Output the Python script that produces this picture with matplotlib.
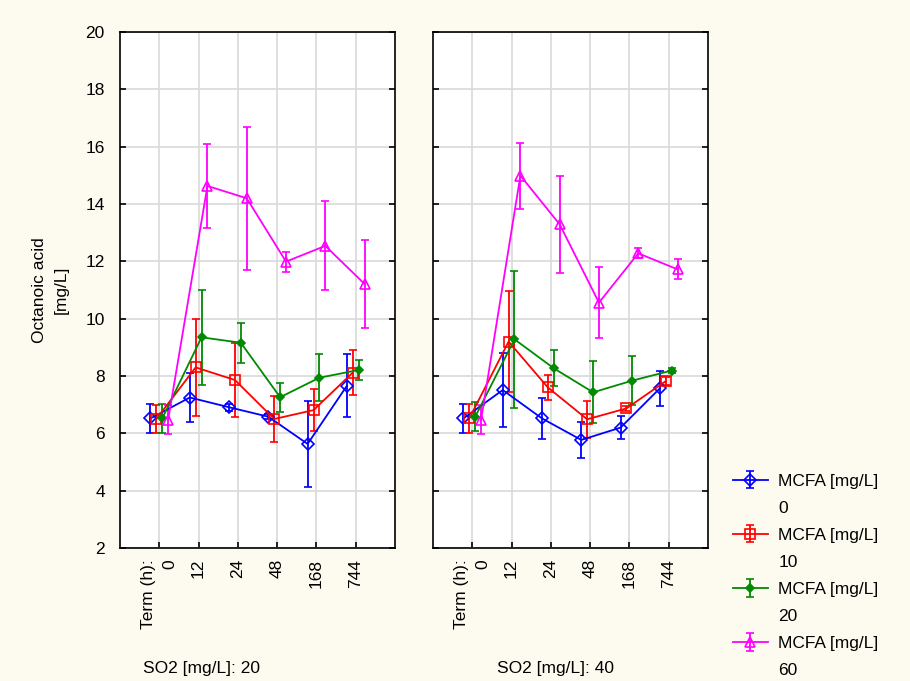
import numpy as np
import matplotlib.pyplot as plt

plt.rcParams['font.family'] = ['Liberation Sans', 'DejaVu Sans']

terms = ["0", "12", "24", "48", "168", "744"]
mcfa_levels = ["0", "10", "20", "60"]
so2_levels = ["20", "40"]

# SO2 20 mg/L, rows = MCFA 0, 10, 20, 60
so2_20_mean = [
    [6.52, 7.25, 6.91, 6.58, 5.63, 7.66],
    [6.50, 8.30, 7.86, 6.50, 6.81, 8.12],
    [6.52, 9.35, 9.16, 7.26, 7.94, 8.21],
    [6.48, 14.63, 14.20, 11.99, 12.54, 11.21],
]
so2_20_err = [
    [0.50, 0.86, 0.12, 0.08, 1.50, 1.10],
    [0.50, 1.68, 1.30, 0.81, 0.73, 0.77],
    [0.50, 1.65, 0.70, 0.50, 0.82, 0.35],
    [0.50, 1.47, 2.50, 0.35, 1.55, 1.53],
]

# SO2 40 mg/L
so2_40_mean = [
    [6.52, 7.51, 6.52, 5.77, 6.20, 7.57],
    [6.52, 9.20, 7.60, 6.49, 6.87, 7.82],
    [6.58, 9.28, 8.27, 7.43, 7.84, 8.19],
    [6.48, 14.99, 13.29, 10.56, 12.28, 11.72],
]
so2_40_err = [
    [0.50, 1.30, 0.72, 0.63, 0.40, 0.61],
    [0.50, 1.75, 0.45, 0.65, 0.10, 0.15],
    [0.50, 2.40, 0.63, 1.08, 0.86, 0.08],
    [0.50, 1.15, 1.68, 1.25, 0.17, 0.35],
]

colors = ["#0000ff", "#ff0000", "#008a00", "#ff00ff"]
markers = ["D", "s", "D", "^"]
msizes = [6, 7, 4.5, 7]
faces = ["none", "none", "#008a00", "none"]
offsets = [-0.225, -0.075, 0.075, 0.225]

fs = 12.5
bg = "#fdfbf0"
fig = plt.figure(figsize=(9.1, 6.81), dpi=100, facecolor=bg)
ax1 = fig.add_axes([0.1319, 0.1953, 0.3022, 0.7577])
ax2 = fig.add_axes([0.4758, 0.1953, 0.3022, 0.7577])

x = np.arange(1, len(terms) + 1)
handles = []
for ax, means, errs in [(ax1, so2_20_mean, so2_20_err),
                        (ax2, so2_40_mean, so2_40_err)]:
    ax.set_facecolor("white")
    for i in range(len(mcfa_levels)):
        h = ax.errorbar(x + offsets[i], means[i], yerr=errs[i], color=colors[i],
                        marker=markers[i], ms=msizes[i], mfc=faces[i], mec=colors[i],
                        mew=1.2, lw=1.3, elinewidth=1.3, capsize=3, capthick=1.2)
        if ax is ax1:
            handles.append(h)
    ax.set_xlim(0, 7)
    ax.set_ylim(2, 20)
    ax.set_yticks(np.arange(2, 21, 2))
    ax.set_xticks(x)
    ax.set_xticklabels(["Term (h):\n0"] + terms[1:], rotation=90, fontsize=fs,
                       multialignment="right", linespacing=1.5)
    ax.grid(True, color="#d9d9d9", lw=1.2)
    ax.set_axisbelow(True)
    ax.tick_params(direction="in", length=4, width=1.2, right=True, labelsize=fs)
    ax.tick_params(axis="y", pad=11)
    ax.tick_params(axis="x", pad=8)
    for s in ax.spines.values():
        s.set_linewidth(1.2)

ax2.tick_params(labelleft=False)
ax1.set_ylabel("Octanoic acid\n[mg/L]", fontsize=fs, labelpad=12, linespacing=1.6)

fig.text(0.157, 0.012, "SO2 [mg/L]: " + so2_levels[0], fontsize=fs)
fig.text(0.546, 0.012, "SO2 [mg/L]: " + so2_levels[1], fontsize=fs)

# legend: handle sits on the first line, level value on a second line below
leg = fig.legend(handles, ["MCFA [mg/L]"] * len(mcfa_levels), loc="upper left",
                 bbox_to_anchor=(0.798, 0.315), borderaxespad=0, frameon=False,
                 fontsize=fs, labelspacing=2.25, handlelength=2.0, handletextpad=0.6)
fig.canvas.draw()
W, H = fig.bbox.width, fig.bbox.height
for t, m in zip(leg.get_texts(), mcfa_levels):
    bb = t.get_window_extent()
    yc = (bb.y0 + bb.y1) / 2 - 27
    fig.text(bb.x0 / W, yc / H, m, va="center", ha="left", fontsize=fs)

fig.savefig("out.png", dpi=100, facecolor=bg)
